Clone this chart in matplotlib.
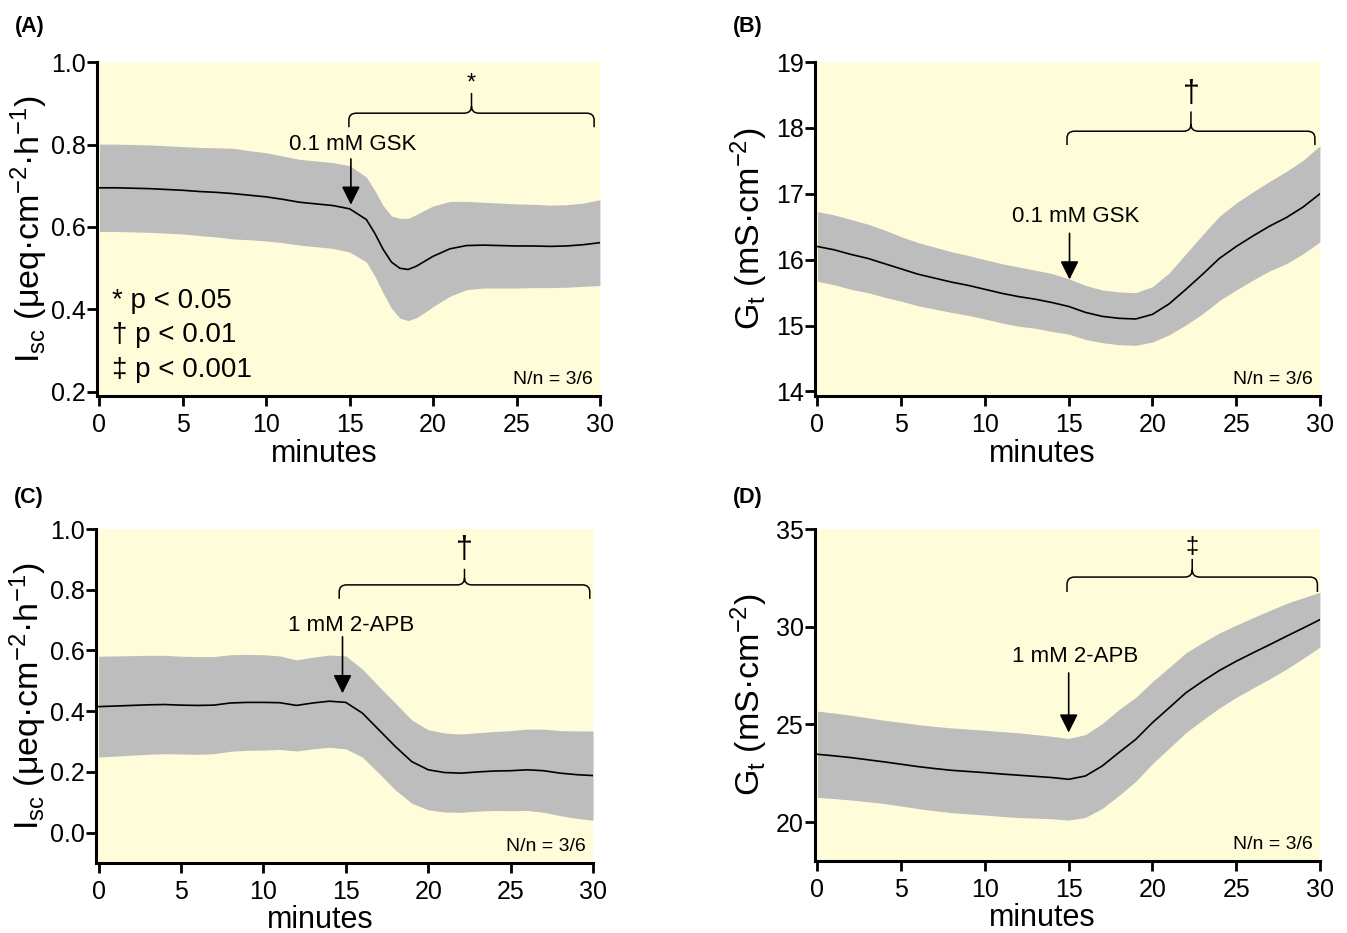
import numpy as np
import matplotlib
matplotlib.use('Agg')
import matplotlib.pyplot as plt
from matplotlib.path import Path
from matplotlib.patches import PathPatch

plt.rcParams['font.family'] = ['Liberation Sans', 'DejaVu Sans']
plt.rcParams['mathtext.fontset'] = 'custom'
plt.rcParams['mathtext.rm'] = 'Liberation Sans'
plt.rcParams['mathtext.it'] = 'Liberation Sans:italic'
plt.rcParams['mathtext.bf'] = 'Liberation Sans:bold'

# panel A: Isc, GSK
minutes_a = [0, 1, 2, 3, 4, 5, 6, 7, 8, 9, 10, 11, 12, 13, 14, 15, 16, 16.5, 17, 17.5,
             18, 18.5, 19, 19.5, 20, 21, 22, 23, 24, 25, 26, 27, 28, 29, 30]
mean_a = [0.695, 0.695, 0.694, 0.693, 0.691, 0.689, 0.686, 0.684, 0.681, 0.677, 0.673,
          0.667, 0.660, 0.656, 0.652, 0.644, 0.618, 0.585, 0.546, 0.515, 0.500, 0.497,
          0.505, 0.517, 0.529, 0.547, 0.555, 0.556, 0.555, 0.554, 0.554, 0.553, 0.554,
          0.557, 0.562]
sem_a = [0.106, 0.106, 0.106, 0.106, 0.106, 0.106, 0.107, 0.108, 0.110, 0.108, 0.107,
         0.105, 0.104, 0.104, 0.104, 0.105, 0.103, 0.104, 0.106, 0.112, 0.121, 0.124,
         0.125, 0.124, 0.122, 0.115, 0.107, 0.104, 0.103, 0.102, 0.101, 0.100, 0.100,
         0.101, 0.104]

# panel B: Gt, GSK
minutes = list(range(31))
mean_b = [16.20, 16.15, 16.08, 16.02, 15.94, 15.86, 15.78, 15.72, 15.66, 15.61, 15.55,
          15.49, 15.44, 15.40, 15.35, 15.29, 15.20, 15.14, 15.11, 15.10, 15.17, 15.33,
          15.55, 15.78, 16.02, 16.20, 16.36, 16.51, 16.64, 16.80, 17.00]
sem_b = [0.53, 0.53, 0.53, 0.52, 0.51, 0.49, 0.48, 0.47, 0.46, 0.455, 0.45, 0.45, 0.45,
         0.44, 0.44, 0.42, 0.41, 0.40, 0.40, 0.40, 0.42, 0.47, 0.54, 0.60, 0.64, 0.66,
         0.67, 0.68, 0.70, 0.71, 0.73]

# panel C: Isc, 2-APB
mean_c = [0.415, 0.417, 0.419, 0.421, 0.422, 0.420, 0.419, 0.420, 0.427, 0.429, 0.429,
          0.428, 0.419, 0.427, 0.433, 0.429, 0.394, 0.339, 0.284, 0.234, 0.207, 0.198,
          0.196, 0.200, 0.203, 0.204, 0.207, 0.204, 0.196, 0.191, 0.188]
sem_c = [0.166, 0.165, 0.164, 0.163, 0.162, 0.161, 0.161, 0.160, 0.159, 0.158, 0.157,
         0.154, 0.150, 0.151, 0.152, 0.153, 0.145, 0.143, 0.143, 0.137, 0.132, 0.130,
         0.129, 0.129, 0.130, 0.132, 0.134, 0.137, 0.140, 0.144, 0.147]

# panel D: Gt, 2-APB
mean_d = [23.47, 23.39, 23.30, 23.19, 23.08, 22.96, 22.84, 22.74, 22.65, 22.59, 22.53,
          22.46, 22.40, 22.34, 22.28, 22.19, 22.36, 22.87, 23.56, 24.23, 25.09, 25.85,
          26.62, 27.21, 27.76, 28.23, 28.66, 29.08, 29.51, 29.93, 30.36]
sem_d = [2.21, 2.19, 2.17, 2.15, 2.13, 2.14, 2.15, 2.16, 2.17, 2.17, 2.17, 2.17, 2.17,
         2.14, 2.11, 2.09, 2.12, 2.17, 2.20, 2.15, 2.10, 2.07, 2.04, 1.98, 1.92, 1.85,
         1.80, 1.75, 1.68, 1.55, 1.40]

isc_label = r'I$_{\mathrm{sc}}$ (μeq·cm$^{\mathrm{-2}}$·h$^{\mathrm{-1}}$)'
gt_label = r'G$_{\mathrm{t}}$ (mS·cm$^{\mathrm{-2}}$)'

bg = '#FFFDD9'
band = '#BDBDBD'


def brace(ax, x0, x1, yb, yend, ytip, dx):
    xc = (x0 + x1) / 2
    dy = (yb - yend) * 0.5
    verts = [(x0, yend), (x0, yb - dy), (x0, yb), (x0 + dx, yb), (xc - dx, yb),
             (xc, yb), (xc, yb + dy), (xc, ytip),
             (xc, yb + dy), (xc, yb), (xc + dx, yb), (x1 - dx, yb),
             (x1, yb), (x1, yb - dy), (x1, yend)]
    codes = [Path.MOVETO, Path.LINETO, Path.CURVE3, Path.CURVE3, Path.LINETO,
             Path.CURVE3, Path.CURVE3, Path.LINETO,
             Path.MOVETO, Path.CURVE3, Path.CURVE3, Path.LINETO,
             Path.CURVE3, Path.CURVE3, Path.LINETO]
    ax.add_patch(PathPatch(Path(verts, codes), fill=False, lw=1.1, color='k', clip_on=False))


def panel(rect, t, mean, sem, ylim, yticks, ylabel, ypad, letter, drug, arrow, brk, sym, symsize):
    ax = fig.add_axes(rect)
    ax.set_facecolor(bg)
    m = np.array(mean)
    s = np.array(sem)
    ax.fill_between(t, m - s, m + s, color=band, lw=0)
    ax.plot(t, m, color='k', lw=1.2)
    ax.set_xlim(-0.15, 30)
    ax.set_ylim(*ylim)
    ax.set_xticks([0, 5, 10, 15, 20, 25, 30])
    ax.set_yticks(yticks)
    for sp in ['top', 'right']:
        ax.spines[sp].set_visible(False)
    for sp in ['left', 'bottom']:
        ax.spines[sp].set_linewidth(2.2)
    ax.tick_params(direction='out', length=7, width=2, labelsize=18)
    ax.tick_params(axis='x', pad=5)
    ax.tick_params(axis='y', pad=1)
    ax.set_xlabel('minutes', fontsize=22, va='center')
    ax.xaxis.set_label_coords(0.451, -0.172)
    ax.set_ylabel(ylabel, fontsize=24.5, labelpad=ypad)
    # drug arrow
    ax.annotate('', xy=(arrow[0], arrow[2]), xytext=(arrow[0], arrow[1]),
                arrowprops=dict(arrowstyle='-|>', color='k', lw=1.2, mutation_scale=28,
                                shrinkA=0, shrinkB=0))
    ax.text(arrow[3], arrow[4], drug, fontsize=16, ha='center', va='center')
    brace(ax, brk[0], brk[1], brk[2], brk[3], brk[4], 0.45)
    ax.text((brk[0] + brk[1]) / 2, brk[5], sym, fontsize=symsize, ha='center', va='center')
    ax.text(0.985, 0.025, 'N/n = 3/6', transform=ax.transAxes, fontsize=14,
            ha='right', va='bottom')
    fig.text(rect[0] - 0.061, 0.972 if rect[1] > 0.5 else 0.467, letter,
             fontsize=15.5, fontweight='bold', ha='left', va='center')
    return ax


fig = plt.figure(figsize=(13.47, 9.33), dpi=100)

ax_a = panel([0.0720, 0.5755, 0.3734, 0.3580], minutes_a, mean_a, sem_a, (0.19, 1.0),
             [0.2, 0.4, 0.6, 0.8, 1.0], isc_label, 1, '(A)', '0.1 mM GSK',
             (15.07, 0.765, 0.654, 15.2, 0.80),
             (14.95, 29.65, 0.876, 0.842, 0.925, 0.947), '*', 17)
ax_a.yaxis.set_major_formatter(matplotlib.ticker.FormatStrFormatter('%.1f'))
legend_lines = ['* p < 0.05', '† p < 0.01', '‡ p < 0.001']
for i, s in enumerate(legend_lines):
    ax_a.text(0.75, 0.42 - 0.083 * i, s, fontsize=20, ha='left', va='center')

panel([0.6050, 0.5755, 0.3749, 0.3580], minutes, mean_b, sem_b, (13.93, 19.0),
      [14, 15, 16, 17, 18, 19], gt_label, 4, '(B)', '0.1 mM GSK',
      (15.05, 16.4, 15.7, 15.4, 16.65),
      (14.9, 29.7, 17.95, 17.74, 18.25, 18.52), '†', 22)

ax_c = panel([0.0713, 0.0750, 0.3690, 0.3580], minutes, mean_c, sem_c, (-0.1, 1.0),
             [0.0, 0.2, 0.4, 0.6, 0.8, 1.0], isc_label, 1, '(C)', '1 mM 2-APB',
             (14.8, 0.645, 0.459, 15.3, 0.683),
             (14.6, 29.8, 0.816, 0.77, 0.869, 0.932), '†', 22)
ax_c.yaxis.set_major_formatter(matplotlib.ticker.FormatStrFormatter('%.1f'))

panel([0.6050, 0.0770, 0.3749, 0.3560], minutes, mean_d, sem_d, (18.0, 35.0),
      [20, 25, 30, 35], gt_label, 4, '(D)', '1 mM 2-APB',
      (15.0, 27.63, 24.58, 15.4, 28.47),
      (14.9, 29.85, 32.54, 31.78, 33.47, 34.07), '‡', 17)

fig.savefig('out.png', dpi=100)
